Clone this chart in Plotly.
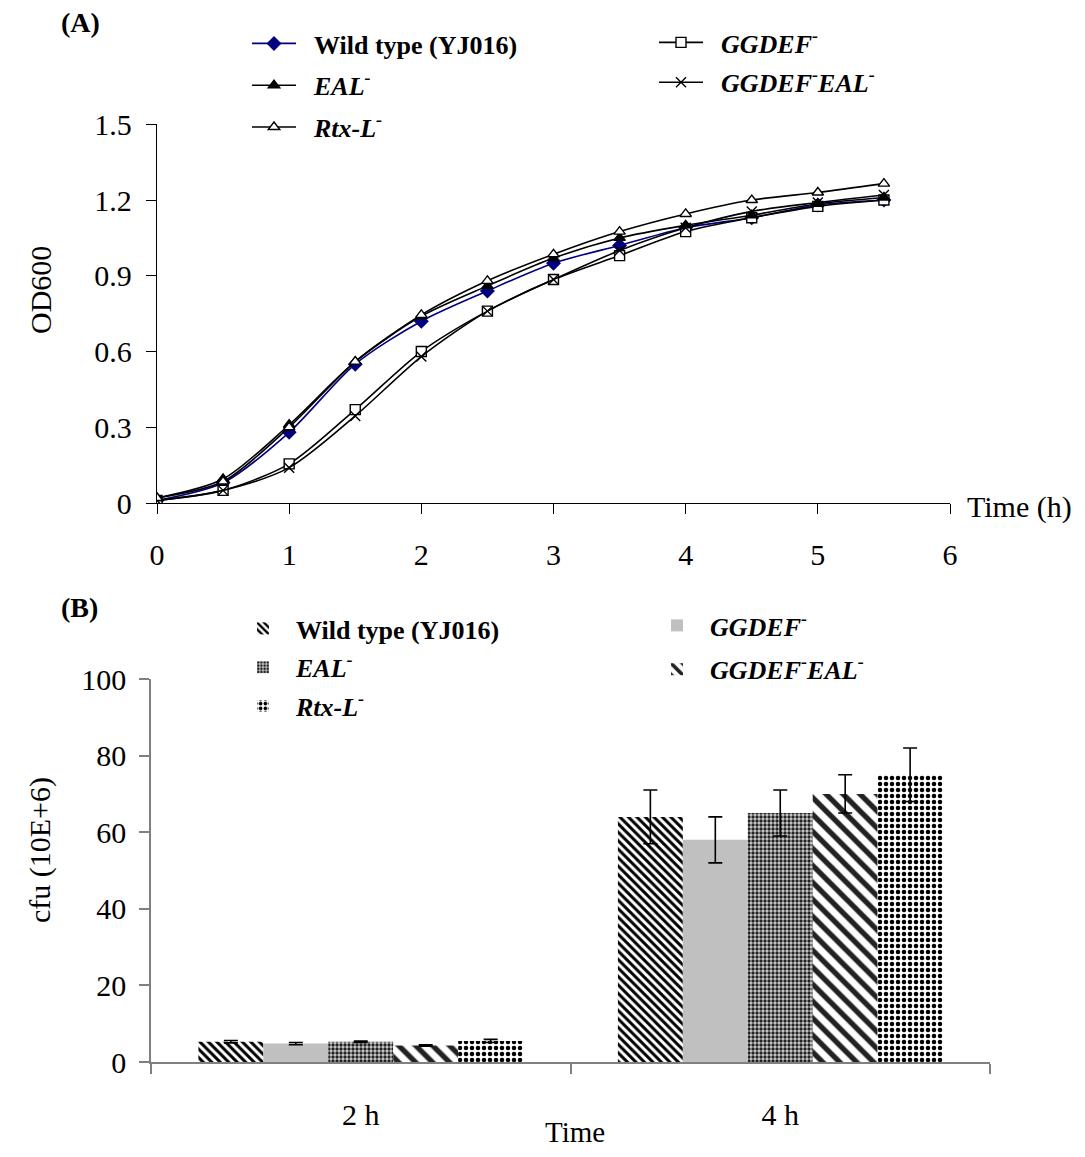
import plotly.graph_objects as go

# page body has an 8px default margin: figure is placed at (8, 8)
OFF = 8
W, H = 1085 - 2 * OFF, 1157 - 2 * OFF
def px(x): return (x - OFF) / W
def py(y): return 1 - (y - OFF) / H

FONT = "Liberation Serif"

# ---------- Panel A data ----------
time_h = [0, 0.5, 1, 1.5, 2, 2.5, 3, 3.5, 4, 4.5, 5, 5.5]
od_wt = [0.01, 0.08, 0.28, 0.55, 0.72, 0.84, 0.95, 1.02, 1.09, 1.13, 1.18, 1.20]
od_ggdef = [0.01, 0.05, 0.155, 0.37, 0.60, 0.76, 0.885, 0.98, 1.075, 1.13, 1.175, 1.20]
od_eal = [0.02, 0.095, 0.31, 0.56, 0.74, 0.86, 0.97, 1.05, 1.10, 1.14, 1.185, 1.21]
od_ggdef_eal = [0.01, 0.05, 0.14, 0.345, 0.58, 0.76, 0.885, 1.00, 1.09, 1.155, 1.19, 1.22]
od_rtx = [0.02, 0.085, 0.30, 0.56, 0.745, 0.88, 0.985, 1.075, 1.145, 1.20, 1.23, 1.265]

# ---------- Panel B data ----------
groups = ["2 h", "4 h"]
cfu_wt = [5.3, 64]
err_wt = [0.3, 7]
cfu_ggdef = [4.8, 58]
err_ggdef = [0.3, 6]
cfu_eal = [5.3, 65]
err_eal = [0.2, 6]
cfu_ggdef_eal = [4.3, 70]
err_ggdef_eal = [0.2, 5]
cfu_rtx = [5.5, 75]
err_rtx = [0.4, 7]

SP = "&nbsp;&nbsp;"
names = {
    "wt": SP + "<b>Wild type (YJ016)</b>",
    "ggdef": SP + "<b><i>GGDEF<sup>-</sup></i></b>",
    "eal": SP + "<b><i>EAL<sup>-</sup></i></b>",
    "gge": SP + "<b><i>GGDEF<sup>-</sup>EAL<sup>-</sup></i></b>",
    "rtx": SP + "<b><i>Rtx-L<sup>-</sup></i></b>",
}

fig = go.Figure()

def line_trace(y, name, color, symbol, mfill, mline, legend, group):
    return go.Scatter(
        x=time_h, y=y, name=name, mode="lines+markers",
        line=dict(color=color, width=1.6, shape="spline", smoothing=0.8),
        marker=dict(symbol=symbol, size=10, color=mfill,
                    line=dict(color=mline, width=1.4)),
        xaxis="x", yaxis="y", legend=legend, legendgroup=group,
    )

fig.add_trace(line_trace(od_wt, names["wt"], "#000080", "diamond", "#000080", "#000080", "legend", "a1"))
fig.add_trace(line_trace(od_ggdef, names["ggdef"], "black", "square", "white", "black", "legend2", "a4"))
fig.add_trace(line_trace(od_eal, names["eal"], "black", "triangle-up", "black", "black", "legend", "a2"))
fig.add_trace(line_trace(od_ggdef_eal, names["gge"], "black", "x-thin", "black", "black", "legend2", "a5"))
fig.add_trace(line_trace(od_rtx, names["rtx"], "black", "triangle-up", "white", "black", "legend", "a3"))

def bar_trace(y, err, name, pattern, color, legend, group):
    return go.Bar(
        x=groups, y=y, name=name,
        marker=dict(color=color, line=dict(width=0), pattern=pattern),
        error_y=dict(type="data", array=err, visible=True, color="black",
                     thickness=1.6, width=7),
        xaxis="x2", yaxis="y2", legend=legend, legendgroup=group,
    )

fig.add_trace(bar_trace(cfu_wt, err_wt, names["wt"],
                        dict(shape="\\", size=6, solidity=0.5, fgcolor="black", bgcolor="white", fillmode="replace"),
                        "white", "legend3", "b1"))
fig.add_trace(bar_trace(cfu_ggdef, err_ggdef, names["ggdef"], dict(shape=""),
                        "#c0c0c0", "legend4", "b4"))
fig.add_trace(bar_trace(cfu_eal, err_eal, names["eal"],
                        dict(shape=".", size=4, solidity=0.55, fgcolor="#222222", bgcolor="#d0d0d0", fillmode="replace"),
                        "#d0d0d0", "legend3", "b2"))
fig.add_trace(bar_trace(cfu_ggdef_eal, err_ggdef_eal, names["gge"],
                        dict(shape="\\", size=12, solidity=0.45, fgcolor="#222222", bgcolor="white", fillmode="replace"),
                        "white", "legend4", "b5"))
fig.add_trace(bar_trace(cfu_rtx, err_rtx, names["rtx"],
                        dict(shape=".", size=6, solidity=0.45, fgcolor="black", bgcolor="white", fillmode="replace"),
                        "white", "legend3", "b3"))

tickfont = dict(family=FONT, size=30, color="black")
legfont = dict(family=FONT, size=26, color="black")

def leg(x, y, iw, gap):
    return dict(x=px(x), y=py(y), xanchor="left", yanchor="top", font=legfont,
                bgcolor="rgba(0,0,0,0)", itemwidth=iw, tracegroupgap=gap,
                traceorder="grouped", itemclick=False)

fig.update_layout(
    width=W, height=H, margin=dict(l=0, r=0, t=0, b=0),
    paper_bgcolor="white", plot_bgcolor="white",
    font=dict(family=FONT, color="black"),
    barmode="group", bargap=0.226, bargroupgap=0,
    xaxis=dict(domain=[px(157), px(950)], range=[0, 6], tickvals=[0, 1, 2, 3, 4, 5, 6],
               showgrid=False, zeroline=False, showline=True, linecolor="black", linewidth=1.3,
               ticks="outside", ticklen=10, tickcolor="black", tickwidth=1.3,
               tickfont=tickfont, ticklabelstandoff=15, anchor="y", automargin=False),
    yaxis=dict(domain=[py(503), py(124.3)], range=[0, 1.5],
               tickvals=[0, 0.3, 0.6, 0.9, 1.2, 1.5], ticktext=["0", "0.3", "0.6", "0.9", "1.2", "1.5"],
               showgrid=False, zeroline=False, showline=True, linecolor="black", linewidth=1.3,
               ticks="outside", ticklen=10, tickcolor="black", tickwidth=1.3,
               tickfont=tickfont, ticklabelstandoff=8, anchor="x", automargin=False),
    xaxis2=dict(domain=[px(151), px(990)], type="category", tickson="boundaries",
                showgrid=False, zeroline=False, showline=True, linecolor="#808080", linewidth=1.5,
                ticks="outside", ticklen=10, tickcolor="#808080", tickwidth=1.5,
                tickfont=tickfont, ticklabelstandoff=25, anchor="y2", automargin=False),
    yaxis2=dict(domain=[py(1062), py(679)], range=[0, 100], tickvals=[0, 20, 40, 60, 80, 100],
                showgrid=False, zeroline=False, showline=True, linecolor="#808080", linewidth=1.5,
                ticks="outside", ticklen=10, tickcolor="#808080", tickwidth=1.5,
                tickfont=tickfont, ticklabelstandoff=7, anchor="x2", automargin=False),
    showlegend=True,
    legend=leg(247, 20, 44, 5),
    legend2=leg(654, 19, 44, 3),
    legend3=leg(243, 605, 30, 2),
    legend4=leg(657, 602, 30, 7),
)

ann = [
    dict(text="<b>(A)</b>", x=px(59), y=py(22), xanchor="left", yanchor="middle", font=dict(size=28)),
    dict(text="<b>(B)</b>", x=px(59), y=py(607), xanchor="left", yanchor="middle", font=dict(size=28)),
    dict(text="OD600", x=px(40), y=py(290), textangle=-90, xanchor="center", yanchor="middle", font=dict(size=30)),
    dict(text="Time (h)", x=px(965), y=py(507), xanchor="left", yanchor="middle", font=dict(size=30)),
    dict(text="cfu (10E+6)", x=px(40), y=py(850), textangle=-90, xanchor="center", yanchor="middle", font=dict(size=30)),
    dict(text="Time", x=px(575), y=py(1149), xanchor="center", yanchor="bottom", borderpad=0, font=dict(size=29)),
]
for a in ann:
    a.update(xref="paper", yref="paper", showarrow=False)
    a["font"].update(family=FONT, color="black")
    fig.add_annotation(**a)

fig.write_html("out.html")
